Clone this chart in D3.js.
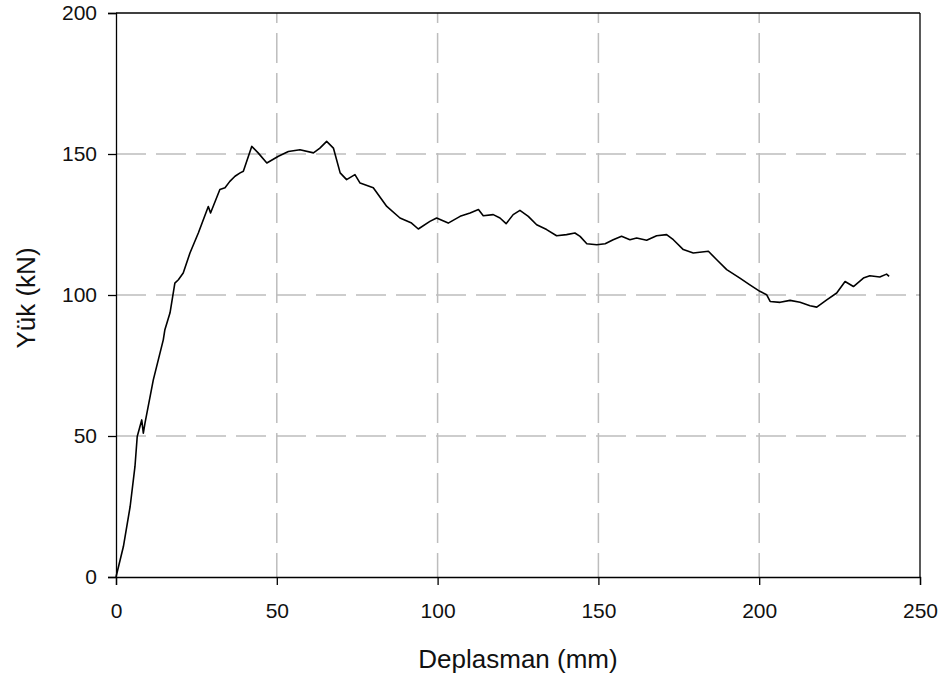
<!DOCTYPE html>
<html>
<head>
<meta charset="utf-8">
<script src="https://cdn.jsdelivr.net/npm/d3@7"></script>
<style>
  body { margin: 0; background: #fff; }
  svg text { font-family: "Liberation Sans", Arial, sans-serif; fill: #111; }
</style>
</head>
<body>
<div id="chart"></div>
<script>
// Displacement (mm)
const displacement = [0, 2.3, 4.4, 5.9, 6.6, 8.0, 8.5, 9.0, 11.6, 14.7, 15.2, 16.8, 18.3, 19.4, 20.9, 23.0,
  25.6, 28.7, 29.4, 32.3, 33.9, 35.4, 37.0, 38.6, 39.6, 42.2, 44.2, 46.9, 50.5, 53.6, 57.2, 61.4,
  63.4, 65.5, 67.6, 69.7, 71.7, 74.3, 75.9, 80.0, 84.2, 88.3, 91.9, 94.0, 97.6, 99.7, 103.3, 107.0,
  110.1, 112.7, 114.2, 117.3, 119.4, 121.3, 123.5, 125.6, 128.2, 130.8, 133.9, 137.0, 140.1, 142.7,
  144.3, 146.4, 149.5, 152.1, 154.6, 157.2, 159.8, 161.9, 165.0, 168.1, 171.2, 173.3, 176.4, 179.5,
  184.2, 186.8, 189.9, 194.0, 197.1, 200.2, 202.3, 203.4, 206.5, 209.6, 212.7, 215.8, 217.9, 221.0,
  224.1, 226.7, 229.3, 232.4, 234.4, 237.5, 239.6, 240.4];
// Load (kN)
const load = [0, 10.8, 25, 39.2, 49.8, 55.7, 51, 54.5, 69.9, 84.1, 87.7, 93.7, 104.2, 105.4, 107.8, 114.9,
  122, 131.4, 129.1, 137.4, 138, 140.3, 142.1, 143.3, 143.9, 152.7, 150.4, 146.8, 149.2, 150.9, 151.5, 150.4,
  152.1, 154.5, 152.1, 143.3, 140.9, 142.7, 139.7, 138, 131.4, 127.3, 125.5, 123.4, 126.1, 127.3, 125.5, 127.9,
  129.1, 130.3, 128.1, 128.5, 127.3, 125.3, 128.5, 130.0, 127.9, 124.9, 123.2, 121.0, 121.4, 122,
  120.8, 118.2, 117.8, 118.2, 119.6, 120.8, 119.6, 120.2, 119.4, 121, 121.4, 119.6, 116.1, 114.9,
  115.5, 112.5, 109, 106, 103.6, 101.3, 100.1, 97.7, 97.4, 98.1, 97.4, 96.2, 95.7, 98.3,
  100.7, 104.8, 103, 106, 106.8, 106.4, 107.4, 106.6];

const xTicks = [0, 50, 100, 150, 200, 250];
const yTicks = [0, 50, 100, 150, 200];

const margin = { top: 13, right: 25, bottom: 100, left: 116 };
const width = 945 - margin.left - margin.right;
const height = 677 - margin.top - margin.bottom;

const svg = d3.select("#chart")
  .append("svg")
  .attr("width", 945)
  .attr("height", 677)
  .append("g")
  .attr("transform", `translate(${margin.left}, ${margin.top})`);

const x = d3.scaleLinear().domain([0, 250]).range([0, width]);
const y = d3.scaleLinear().domain([0, 200]).range([height, 0]);

// dashed grid lines
svg.append("g")
  .selectAll("line")
  .data(yTicks.filter(d => d > 0 && d < 200))
  .join("line")
  .attr("x1", 0).attr("x2", width)
  .attr("y1", d => y(d)).attr("y2", d => y(d))
  .attr("stroke", "#bdbdbd")
  .attr("stroke-width", 1.5)
  .attr("stroke-dasharray", "30,10");

svg.append("g")
  .selectAll("line")
  .data(xTicks.filter(d => d > 0 && d < 250))
  .join("line")
  .attr("x1", d => x(d)).attr("x2", d => x(d))
  .attr("y1", height).attr("y2", 0)
  .attr("stroke", "#bdbdbd")
  .attr("stroke-width", 1.5)
  .attr("stroke-dasharray", "30,10")
  .attr("stroke-dashoffset", 6);

// top and right frame
svg.append("line").attr("x1", 0).attr("x2", width).attr("y1", 0).attr("y2", 0)
  .attr("stroke", "#000").attr("stroke-width", 1.3);
svg.append("line").attr("x1", width).attr("x2", width).attr("y1", 0).attr("y2", height)
  .attr("stroke", "#000").attr("stroke-width", 1.3);

// axes
const xAxis = svg.append("g")
  .attr("transform", `translate(0, ${height})`)
  .call(d3.axisBottom(x).tickValues(xTicks).tickSize(8).tickPadding(18).tickFormat(d3.format("d")));
const yAxis = svg.append("g")
  .call(d3.axisLeft(y).tickValues(yTicks).tickSize(8).tickPadding(11).tickFormat(d3.format("d")));

[xAxis, yAxis].forEach(a => {
  a.select(".domain").attr("stroke", "#000").attr("stroke-width", 1.3);
  a.selectAll(".tick line").attr("stroke", "#000").attr("stroke-width", 1.3);
  a.selectAll(".tick text").style("font-size", "21px").attr("fill", "#111");
});

// the load-displacement curve
const line = d3.line()
  .x((d, i) => x(displacement[i]))
  .y(d => y(d));

svg.append("path")
  .datum(load)
  .attr("fill", "none")
  .attr("stroke", "#000")
  .attr("stroke-width", 1.6)
  .attr("stroke-linejoin", "round")
  .attr("d", line);

// axis titles
svg.append("text")
  .attr("x", width / 2)
  .attr("y", 668 - margin.top)
  .attr("text-anchor", "middle")
  .style("font-size", "26px")
  .text("Deplasman (mm)");

svg.append("text")
  .attr("transform", `translate(${35 - margin.left}, ${298 - margin.top}) rotate(-90)`)
  .attr("text-anchor", "middle")
  .style("font-size", "26px")
  .text("Yük (kN)");
</script>
</body>
</html>
